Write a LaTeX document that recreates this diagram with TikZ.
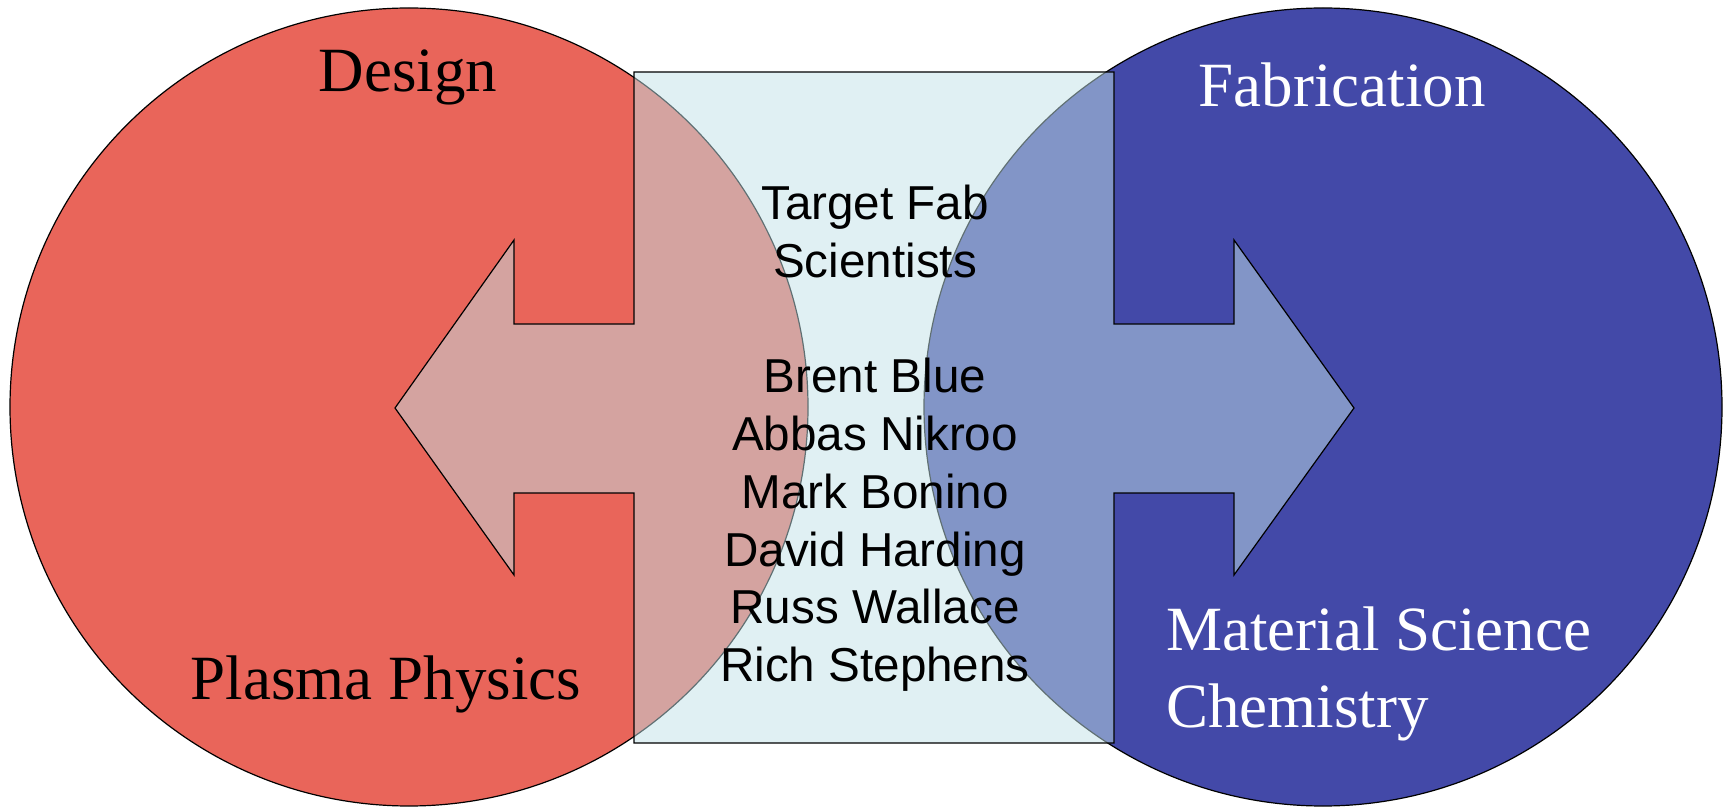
\documentclass[tikz,border=0pt]{standalone}
\usepackage{fontspec}
\setmainfont{Liberation Serif}
\newfontfamily\helv{Liberation Sans}
\definecolor{dred}{RGB}{233,101,90}
\definecolor{fblue}{RGB}{67,73,168}
\definecolor{lcyan}{RGB}{193,225,231}
\tikzset{
  bigcircle/.style={circle, draw=black, line width=1.2pt, inner sep=0pt, minimum size=798pt},
  overlay box/.style={fill=lcyan, fill opacity=0.5, draw=black, line width=1.2pt, line join=miter},
  serif label/.style={font=\fontsize{63}{70}\selectfont, inner sep=0pt},
  name label/.style={font=\helv\fontsize{47.6}{57.7}\selectfont, inner sep=0pt, anchor=base}
}
\begin{document}
\begin{tikzpicture}[x=1pt,y=1pt]
\useasboundingbox (0,0) rectangle (1724,809);
\node[bigcircle, fill=dred] (design) at (409,402) {};
\node[bigcircle, fill=fblue] (fab) at (1323,402) {};
\draw[overlay box] (634,737) -- (1114,737) -- (1114,485) -- (1234,485) -- (1234,569)
  -- (1354,401) -- (1234,234) -- (1234,316) -- (1114,316) -- (1114,66) -- (634,66)
  -- (634,316) -- (514,316) -- (514,234) -- (395,401) -- (514,569) -- (514,485)
  -- (634,485) -- cycle;
\node[serif label, anchor=base] (tdesign) at (408,717) {Design};
\node[serif label, anchor=base, text=white] (tfab) at (1342,702) {Fabrication};
\node[serif label, anchor=base] (tplasma) at (386,110) {Plasma Physics};
\node[serif label, anchor=base west, text=white] (tmat) at (1166,158) {Material Science};
\node[serif label, anchor=base west, text=white] (tchem) at (1166,82) {Chemistry};
\node[name label] (l1) at (875,589) {Target Fab};
\node[name label] (l2) at (875,531.3) {Scientists};
\node[name label] (l3) at (875,416) {Brent Blue};
\node[name label] (l4) at (875,358.3) {Abbas Nikroo};
\node[name label] (l5) at (875,300.6) {Mark Bonino};
\node[name label] (l6) at (875,242.9) {David Harding};
\node[name label] (l7) at (875,185.2) {Russ Wallace};
\node[name label] (l8) at (875,127.5) {Rich Stephens};
\end{tikzpicture}
\end{document}
